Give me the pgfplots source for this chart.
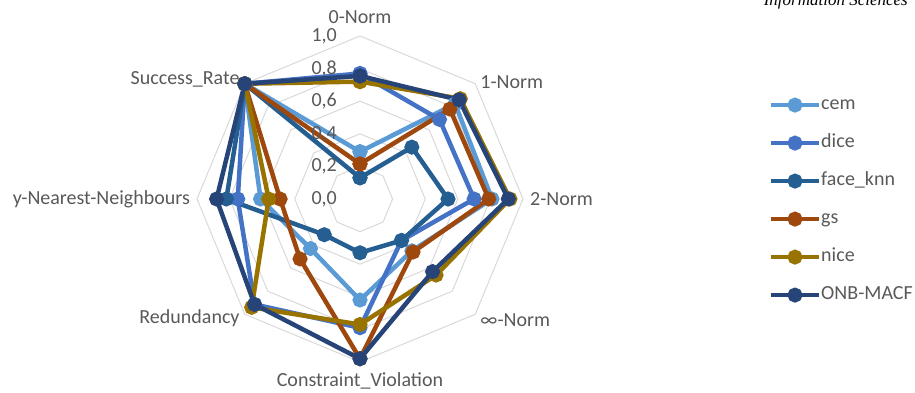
\documentclass[border=0pt]{standalone}
\usepackage{pgfplots}
\pgfplotsset{compat=1.18}
\usepgfplotslibrary{polar}
\usepackage{fontspec}
\setmainfont{Carlito}
\newfontfamily\jfont{Liberation Serif}
\definecolor{cemc}{HTML}{5B9BD5}
\definecolor{dicec}{HTML}{4472C4}
\definecolor{facec}{HTML}{255E91}
\definecolor{gsc}{HTML}{9E480E}
\definecolor{nicec}{HTML}{997300}
\definecolor{onbc}{HTML}{264478}
\definecolor{txt}{HTML}{595959}
\definecolor{gridc}{HTML}{D9D9D9}
\begin{document}
\begin{tikzpicture}[x=1pt,y=1pt]
\useasboundingbox (0,0) rectangle (915,393);
\node[anchor=base east, inner sep=0pt, font=\jfont\itshape\fontsize{17}{20}\selectfont] at (908,387.5) {Information Sciences};
\begin{polaraxis}[
  at={(360pt,194pt)}, anchor=origin,
  scale only axis, width=326pt, height=326pt,
  xmin=0, xmax=360, ymin=0, ymax=1,
  hide axis, clip=false,
  every axis plot/.append style={line width=4.5pt, mark=*, mark size=5.2pt},
  legend style={draw=none, fill=none, at={(axis description cs:1.744,0.824)}, anchor=north west,
    font=\fontsize{20}{24}\selectfont, text=txt,
    nodes={inner sep=0pt, text height=14pt, text depth=5pt},
    row sep=19pt, column sep=0pt},
  legend cell align=left,
  legend image code/.code={\draw[#1,mark=none] (0pt,0pt) -- (48pt,0pt); \draw[#1] plot coordinates {(24pt,0pt)};},
]
\pgfplotsinvokeforeach{0.2,0.4,0.6,0.8,1.0}{
  \addplot[gridc, line width=1pt, no marks, forget plot] coordinates {(90,#1)(45,#1)(0,#1)(-45,#1)(-90,#1)(-135,#1)(-180,#1)(-225,#1)(-270,#1)};
}
% angles: 0-Norm 90, 1-Norm 45, 2-Norm 0, inf-Norm -45, Constraint -90, Redundancy -135, y-NN -180, Success -225
\addplot[cemc, mark options={fill=cemc}] coordinates {(90,0.29)(45,0.825)(0,0.81)(-45,0.45)(-90,0.62)(-135,0.43)(-180,0.61)(-225,1.0)(-270,0.29)};
\addlegendentry{cem}
\addplot[dicec, mark options={fill=dicec}] coordinates {(90,0.77)(45,0.69)(0,0.70)(-45,0.36)(-90,0.79)(-135,0.915)(-180,0.75)(-225,1.0)(-270,0.77)};
\addlegendentry{dice}
\addplot[facec, mark options={fill=facec}] coordinates {(90,0.13)(45,0.45)(0,0.54)(-45,0.36)(-90,0.33)(-135,0.31)(-180,0.82)(-225,1.0)(-270,0.13)};
\addlegendentry{face\_knn}
\addplot[gsc, mark options={fill=gsc}] coordinates {(90,0.215)(45,0.78)(0,0.79)(-45,0.46)(-90,0.98)(-135,0.52)(-180,0.49)(-225,1.0)(-270,0.215)};
\addlegendentry{gs}
\addplot[nicec, mark options={fill=nicec}] coordinates {(90,0.72)(45,0.87)(0,0.92)(-45,0.66)(-90,0.77)(-135,0.94)(-180,0.56)(-225,1.0)(-270,0.72)};
\addlegendentry{nice}
\addplot[onbc, mark options={fill=onbc}] coordinates {(90,0.755)(45,0.86)(0,0.91)(-45,0.63)(-90,0.98)(-135,0.915)(-180,0.88)(-225,1.0)(-270,0.755)};
\addlegendentry{ONB-MACF}
% tick labels
\begin{scope}[every node/.style={anchor=east, inner sep=0pt, text=txt, font=\fontsize{20}{24}\selectfont, xshift=-23pt}]
\node at (axis cs:90,0) {0,0};
\node at (axis cs:90,0.2) {0,2};
\node at (axis cs:90,0.4) {0,4};
\node at (axis cs:90,0.6) {0,6};
\node at (axis cs:90,0.8) {0,8};
\node at (axis cs:90,1.0) {1,0};
\end{scope}
% category labels
\begin{scope}[every node/.style={inner sep=0pt, text=txt, font=\fontsize{20}{24}\selectfont}]
\node[anchor=center] at (axis cs:90,1.117) {0-Norm};
\node[anchor=west, xshift=5pt, yshift=2pt] at (axis cs:45,1) {1-Norm};
\node[anchor=west, xshift=7pt] at (axis cs:0,1) {2-Norm};
\node[anchor=west, xshift=5pt, yshift=-6pt] at (axis cs:-45,1) {∞-Norm};
\node[anchor=center] at (axis cs:-90,1.117) {Constraint\_Violation};
\node[anchor=east, xshift=-5pt, yshift=-4pt] at (axis cs:-135,1) {Redundancy};
\node[anchor=east, xshift=-7pt] at (axis cs:-180,1) {y-Nearest-Neighbours};
\node[anchor=east, xshift=-5pt, yshift=4pt] at (axis cs:-225,1) {Success\_Rate};
\end{scope}
\end{polaraxis}
\end{tikzpicture}
\end{document}
